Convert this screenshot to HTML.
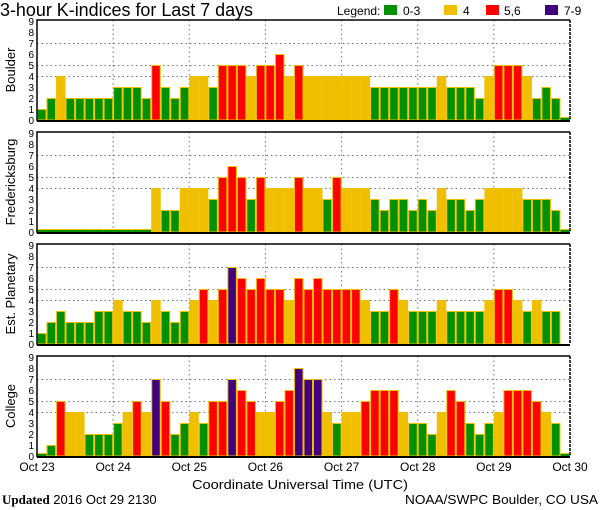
<!DOCTYPE html>
<html><head><meta charset="utf-8"><style>
body{margin:0;background:#fff;}
svg{display:block;font-family:"Liberation Sans",sans-serif;}
</style></head><body>
<svg id="chart" width="600" height="510" viewBox="0 0 600 510" xmlns="http://www.w3.org/2000/svg">
<text x="0" y="16" font-size="18" textLength="253" lengthAdjust="spacingAndGlyphs">3-hour K-indices for Last 7 days</text>
<g font-size="12">
<text x="337" y="15">Legend:</text>
<rect x="384" y="5" width="13" height="10" fill="#009000"/>
<text x="403" y="15">0-3</text>
<rect x="444" y="5" width="13" height="10" fill="#f0c000"/>
<text x="463" y="15">4</text>
<rect x="486" y="5" width="13" height="10" fill="#ff0000"/>
<text x="504" y="15">5,6</text>
<rect x="545" y="5" width="13" height="10" fill="#400080"/>
<text x="564" y="15">7-9</text>
</g>
<text x="300" y="489" font-size="13" text-anchor="middle" textLength="216" lengthAdjust="spacingAndGlyphs">Coordinate Universal Time (UTC)</text>
<text x="2" y="504" font-size="13"><tspan font-family="Liberation Serif,serif" font-weight="bold">Updated</tspan> 2016 Oct 29 2130</text>
<text x="598" y="504" font-size="13" text-anchor="end" textLength="193" lengthAdjust="spacingAndGlyphs">NOAA/SWPC Boulder, CO USA</text>
</svg>
<script>
const stations = ["Boulder","Fredericksburg","Est. Planetary","College"];
const dayLabels = ["Oct 23","Oct 24","Oct 25","Oct 26","Oct 27","Oct 28","Oct 29","Oct 30"];
const yTicks = [0,1,2,3,4,5,6,7,8,9];
const boulder = [1,2,4,2,2,2,2,2, 3,3,3,2,5,3,2,3, 4,4,3,5,5,5,4,5, 5,6,4,5,4,4,4,4, 4,4,4,3,3,3,3,3, 3,3,4,3,3,3,2,4, 5,5,5,4,2,3,2,0];
const fredericksburg = [0,0,0,0,0,0,0,0, 0,0,0,0,4,2,2,4, 4,4,3,5,6,5,3,5, 4,4,4,5,4,4,3,5, 4,4,4,3,2,3,3,2, 3,2,4,3,3,2,3,4, 4,4,4,3,3,3,2,0];
const planetary = [1,2,3,2,2,2,3,3, 4,3,3,2,4,3,2,3, 4,5,4,5,7,6,5,6, 5,5,4,6,5,6,5,5, 5,5,4,3,3,5,4,3, 3,3,4,3,3,3,3,4, 5,5,4,3,4,3,3,null];
const college = [0,1,5,4,4,2,2,2, 3,4,5,4,7,5,2,3, 4,3,5,5,7,6,5,4, 4,5,6,8,7,7,4,3, 4,4,5,6,6,6,4,3, 3,2,4,6,5,3,2,3, 4,6,6,6,5,4,3,0];
const series = [boulder, fredericksburg, planetary, college];

const NS="http://www.w3.org/2000/svg";
const svg=document.getElementById('chart');
const X0=37, X1=570, UNIT=11, NB=56;
const zeros=[120,232,344,456];
const xScale=i=>X0+(X1-X0)*i/NB;
function el(tag,attrs,parent){const e=document.createElementNS(NS,tag);for(const k in attrs)e.setAttribute(k,attrs[k]);(parent||svg).appendChild(e);return e;}
function color(v){return v<=3?'#009000':v===4?'#f0c000':v<=6?'#ff0000':'#400080';}

stations.forEach((name,p)=>{
  const z=zeros[p];
  const yScale=v=>z-v*UNIT;
  const top=yScale(9)-1;
  const g=el('g',{});
  
  
  [4,5,7].forEach(v=>{
    const l=el('line',{x1:X0,x2:X1,y1:yScale(v)+0.5,y2:yScale(v)+0.5,stroke:'#777','stroke-dasharray':'1.5,3'},g);
    
    
  });
  for(let d=1;d<7;d++){
    const x=xScale(d*8);
    const l=el('line',{x1:x,x2:x,y1:top,y2:z,stroke:'#777','stroke-dasharray':'1.5,3'},g);
    
    
  }
  series[p].forEach((v,i)=>{
    if(v===null) return;
    const x=xScale(i), w=xScale(i+1)-x;
    if(v===0){
      const r=el('rect',{x:x,y:z-2,width:w,height:2,fill:'#009000'},g);
      
      
      const t=el('line',{x1:x,x2:x+w,y1:z-2.5,y2:z-2.5,stroke:'#f0c000','stroke-width':1},g);
      
      
      return;
    }
    const h=v*UNIT;
    const r=el('rect',{x:x+0.5,y:z-h+0.5,width:w-1,height:h-0.5,fill:color(v),stroke:'#f0c000','stroke-width':1},g);
    
    
  });
  const b=el('path',{d:`M${X0},${z+1} L${X0},${top} L${X1},${top}`,fill:'none',stroke:'#000','stroke-width':1.5},g);
  
  
  const rb=el('line',{x1:X1,x2:X1,y1:top,y2:z,stroke:'#000','stroke-width':1.5,'stroke-dasharray':'3,1'},g);
  
  
  const bx=el('line',{x1:X0,x2:X1,y1:z+1,y2:z+1,stroke:'#000','stroke-width':2},g);
  
  
  yTicks.forEach(v=>{
    const t=el('text',{x:34,y:yScale(v)+4,'font-size':10,'text-anchor':'end'},g);
    t.textContent=v;
    
    
  });
  const cy=z-50;
  const lab=el('text',{x:0,y:0,'font-size':13,'text-anchor':'middle',transform:`translate(15,${cy}) rotate(-90)`},g);
  lab.textContent=name;
  
  
});
dayLabels.forEach((d,i)=>{
  const t=el('text',{x:xScale(i*8),y:471,'font-size':12,'text-anchor':'middle'});
  t.textContent=d;
  
  
});
</script>
</body></html>
